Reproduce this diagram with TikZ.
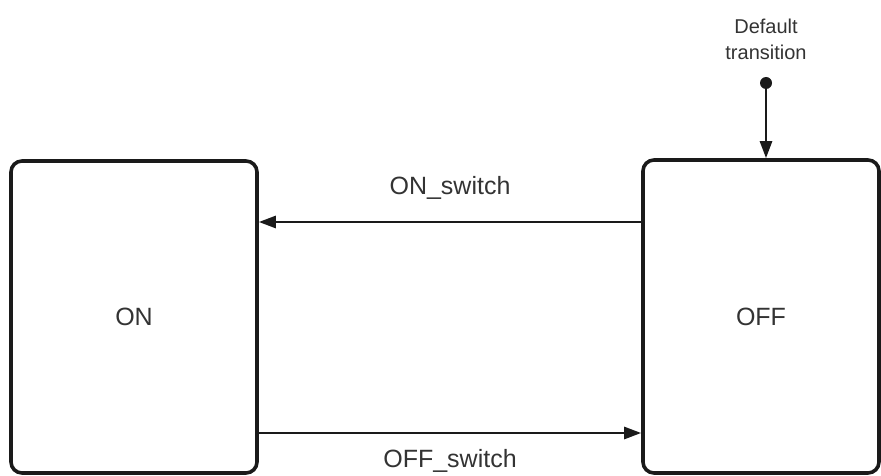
\documentclass[tikz,border=0pt]{standalone}
\usepackage{fontspec}
\setmainfont{Liberation Sans}
\usetikzlibrary{arrows.meta}
\definecolor{ink}{HTML}{1A1A1A}
\definecolor{txt}{HTML}{333333}
\tikzset{
  statebox/.style={draw=ink, line width=3.6pt, rounded corners=11pt, rectangle, inner sep=0pt,
    font=\fontsize{25}{30}\selectfont, text=txt},
  trans/.style={draw=ink, line width=2.6pt, -{Triangle[length=17pt,width=12pt]}},
  lbl/.style={font=\fontsize{25}{30}\selectfont, text=txt, inner sep=0pt},
  small/.style={font=\fontsize{20}{26}\selectfont, text=txt, inner sep=0pt, align=center}
}
\begin{document}
\begin{tikzpicture}[x=1pt,y=-1pt]
\useasboundingbox (0,0) rectangle (881,476);
\node[statebox, minimum width=246pt, minimum height=312pt, text depth=-16pt] (ON) at (134,317) {ON};
\node[statebox, minimum width=236pt, minimum height=313pt, text depth=-8pt] (OFF) at (761,316.5) {OFF};
\draw[trans] (OFF.west |- 0,222) coordinate (a1) -- (ON.east |- a1);
\draw[trans] (ON.east |- 0,433) coordinate (a2) -- (OFF.west |- a2);
\node[lbl] (onsw) at (450,188) {ON\_switch};
\node[lbl] (offsw) at (450,461) {OFF\_switch};
\node[small] (deflbl) at (766,39) {Default\\transition};
\node[circle, fill=ink, inner sep=0pt, minimum size=12pt] (dot) at (766,83) {};
\draw[trans] (dot.center) -- (dot |- OFF.north);
\end{tikzpicture}
\end{document}
